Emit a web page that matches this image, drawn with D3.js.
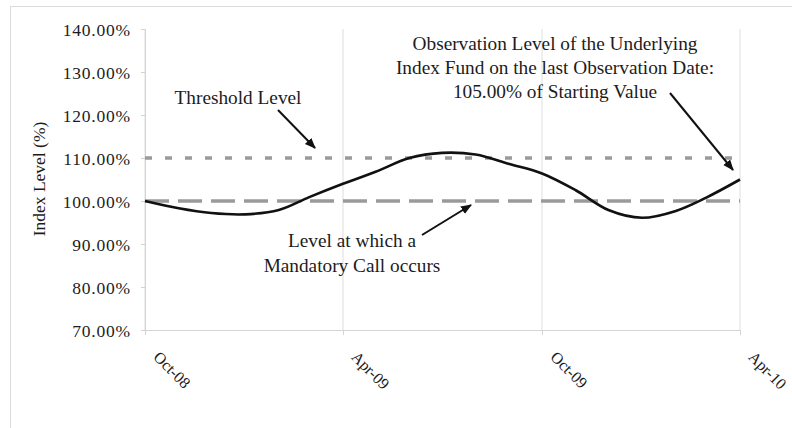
<!DOCTYPE html>
<html>
<head>
<meta charset="utf-8">
<script src="https://cdn.jsdelivr.net/npm/d3@7"></script>
<style>
  body { margin: 0; background: #fff; }
  text { font-family: "Liberation Serif", "Times New Roman", serif; fill: #1c1c1c; }
  .axis path, .axis line { stroke: #d4d4d4; }
</style>
</head>
<body>
<svg class="chart"></svg>
<script>
// chart data
var months = ["2008-10", "2008-11", "2008-12", "2009-01", "2009-02", "2009-03", "2009-04",
  "2009-05", "2009-06", "2009-07", "2009-08", "2009-09", "2009-10", "2009-11",
  "2009-12", "2010-01", "2010-02", "2010-03", "2010-04"];
var indexLevel = [100, 98.3, 97.2, 96.9, 97.9, 100.9, 104.0, 106.8, 110.0, 111.2,
  110.8, 108.6, 106.4, 102.5, 97.9, 96.1, 97.7, 100.8, 105.0];
var xTickDates = ["2008-10", "2009-04", "2009-10", "2010-04"];
var yTicks = [70, 80, 90, 100, 110, 120, 130, 140];
var thresholdLevel = 110;
var callLevel = 100;

// define margins
var margin = {top: 29, right: 52, bottom: 98, left: 145},
  width = 792 - margin.left - margin.right,
  height = 428 - margin.top - margin.bottom;

var parseMonth = d3.timeParse("%Y-%m");
var fmtMonth = d3.timeFormat("%b-%y");

var data = months.map(function(m, i) { return {date: parseMonth(m), value: indexLevel[i]}; });

var x = d3.scaleTime()
  .domain([parseMonth(months[0]), parseMonth(months[months.length - 1])])
  .range([0, width]);

var y = d3.scaleLinear()
  .domain([70, 140])
  .range([height, 0]);

var svg = d3.select(".chart")
  .attr("width", 792)
  .attr("height", 428);

// outer frame
svg.append("rect")
  .attr("x", 10.5).attr("y", 6.5)
  .attr("width", 800).attr("height", 450)
  .attr("fill", "none")
  .attr("stroke", "#dcdcdc");

var chart = svg.append("g")
  .attr("transform", "translate(" + margin.left + "," + margin.top + ")");

// vertical gridlines
chart.selectAll(".grid")
  .data(xTickDates.map(parseMonth))
  .enter().append("line")
  .attr("class", "grid")
  .attr("x1", function(d) { return x(d); })
  .attr("x2", function(d) { return x(d); })
  .attr("y1", 0)
  .attr("y2", height)
  .attr("stroke", "#dedede");

// y-axis
var yAxis = chart.append("g")
  .attr("class", "y axis")
  .call(d3.axisLeft(y)
    .tickValues(yTicks)
    .tickSize(4)
    .tickPadding(10)
    .tickFormat(function(d) { return d.toFixed(2) + "%"; }));
yAxis.selectAll("text")
  .style("font-size", "17.5px")
  .style("letter-spacing", "0.8px")
  .attr("dy", "0.36em");

// x-axis
var xAxis = chart.append("g")
  .attr("class", "x axis")
  .attr("transform", "translate(0," + height + ")")
  .call(d3.axisBottom(x)
    .tickValues(xTickDates.map(parseMonth))
    .tickSize(5)
    .tickFormat(fmtMonth));
xAxis.selectAll("text")
  .style("font-size", "16px")
  .style("text-anchor", "start")
  .attr("x", 0)
  .attr("y", 0)
  .attr("dy", 0)
  .attr("transform", "translate(7,28) rotate(45)");

// y-axis label
chart.append("text")
  .attr("transform", "rotate(-90)")
  .attr("x", -150)
  .attr("y", -100)
  .style("text-anchor", "middle")
  .style("font-size", "17.5px")
  .text("Index Level (%)");

// threshold and call levels
chart.append("line")
  .attr("x1", 0).attr("x2", width)
  .attr("y1", y(thresholdLevel)).attr("y2", y(thresholdLevel))
  .attr("stroke", "#9a9a9a")
  .attr("stroke-width", 3.5)
  .attr("stroke-dasharray", "7,13");

chart.append("line")
  .attr("x1", 0).attr("x2", width)
  .attr("y1", y(callLevel)).attr("y2", y(callLevel))
  .attr("stroke", "#9a9a9a")
  .attr("stroke-width", 3.5)
  .attr("stroke-dasharray", "24,9");

// index line
var line = d3.line()
  .curve(d3.curveCatmullRom)
  .x(function(d) { return x(d.date); })
  .y(function(d) { return y(d.value); });

chart.append("path")
  .datum(data)
  .attr("fill", "none")
  .attr("stroke", "#111")
  .attr("stroke-width", 2.6)
  .attr("d", line);

// arrow marker
svg.append("defs").append("marker")
  .attr("id", "arrow")
  .attr("viewBox", "0 0 10 10")
  .attr("refX", 9).attr("refY", 5)
  .attr("markerWidth", 5.5).attr("markerHeight", 5.5)
  .attr("orient", "auto")
  .append("path")
  .attr("d", "M0,1 L10,5 L0,9 z")
  .attr("fill", "#111");

// annotations (page coordinates)
var notes = svg.append("g");

notes.append("text")
  .attr("x", 238).attr("y", 104)
  .style("text-anchor", "middle")
  .style("font-size", "19.3px")
  .text("Threshold Level");

notes.append("text")
  .attr("x", 352).attr("y", 247)
  .style("text-anchor", "middle")
  .style("font-size", "19.3px")
  .text("Level at which a");
notes.append("text")
  .attr("x", 352).attr("y", 272)
  .style("text-anchor", "middle")
  .style("font-size", "19.3px")
  .text("Mandatory Call occurs");

["Observation Level of the Underlying",
  "Index Fund on the last Observation Date:",
  "105.00% of Starting Value"].forEach(function(t, i) {
  notes.append("text")
    .attr("x", 555).attr("y", 50 + i * 24)
    .style("text-anchor", "middle")
    .style("font-size", "19.3px")
    .text(t);
});

var arrows = [
  [278, 110, 315, 148],
  [422, 235, 471, 205],
  [670, 93, 733, 170]
];
notes.selectAll(".arrow")
  .data(arrows)
  .enter().append("line")
  .attr("class", "arrow")
  .attr("x1", function(d) { return d[0]; })
  .attr("y1", function(d) { return d[1]; })
  .attr("x2", function(d) { return d[2]; })
  .attr("y2", function(d) { return d[3]; })
  .attr("stroke", "#111")
  .attr("stroke-width", 2)
  .attr("marker-end", "url(#arrow)");
</script>
</body>
</html>
